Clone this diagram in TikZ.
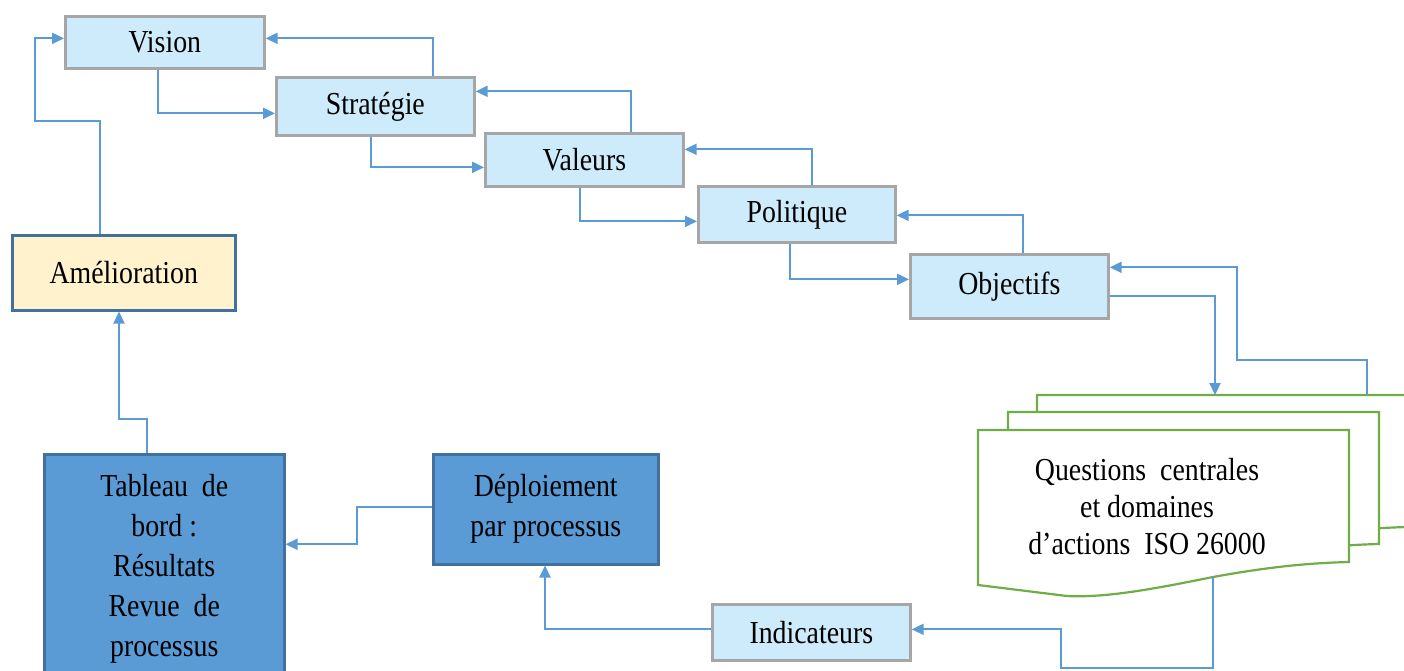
\documentclass[tikz,border=0pt]{standalone}
\usepackage{fontspec}
\setmainfont{Liberation Serif}[FakeStretch=0.87]
\usetikzlibrary{arrows.meta}
\definecolor{stagefill}{HTML}{CDEBFB}
\definecolor{stageline}{HTML}{A6A6A6}
\definecolor{improvefill}{HTML}{FFF2CC}
\definecolor{darkline}{HTML}{41719C}
\definecolor{deepfill}{HTML}{5B9BD5}
\definecolor{linkblue}{HTML}{5B9BD5}
\definecolor{docgreen}{HTML}{70AD47}
\begin{document}
\begin{tikzpicture}[x=1pt,y=-1pt,
  every node/.style={font=\fontsize{32}{40}\selectfont, inner sep=0pt, align=center, anchor=north west},
  stagebox/.style={draw=stageline, line width=2.7pt, fill=stagefill},
  improvebox/.style={draw=darkline, line width=2.5pt, fill=improvefill},
  deepbox/.style={draw=darkline, line width=2.5pt, fill=deepfill},
  link/.style={draw=linkblue, line width=2.2pt, -{Triangle[length=12pt,width=11pt]}},
  docsheet/.pic={
    \draw[docgreen, line width=2.2pt, fill=white]
      (0,0) -- (371,0) -- (371,132)
      .. controls (330,133) and (290,137) .. (235,147)
      .. controls (180,158) and (130,168) .. (89,166)
      -- (0,155) -- cycle;
  }]
\useasboundingbox (0,0) rectangle (1404,670);

% stacked document sheets
\pic at (1037,395) {docsheet};
\pic at (1008,412) {docsheet};
\pic at (978,430) {docsheet};
\node[anchor=center, font=\fontsize{32}{37}\selectfont] (iso) at (1147,507)
  {Questions\ \ centrales\\et domaines\\d’actions\ \ ISO 26000};
\coordinate (sheetin)  at (1215,395);
\coordinate (sheetout) at (1367,395);
\coordinate (sheetbot) at (1213,577);

% boxes
\node[stagebox, minimum width=199pt, minimum height=52pt] (vision)  at (64,15)  {Vision};
\node[stagebox, minimum width=198pt, minimum height=58pt] (strat)   at (275,76) {Stratégie};
\node[stagebox, minimum width=198pt, minimum height=53pt] (valeurs) at (484,132) {Valeurs};
\node[stagebox, minimum width=197pt, minimum height=56pt] (polit)   at (697,185) {Politique};
\node[stagebox, minimum width=198pt, minimum height=64pt] (objec)   at (909,253) {Objectifs};
\node[stagebox, minimum width=198pt, minimum height=56pt] (indic)   at (711,603) {Indicateurs};
\node[improvebox, minimum width=223pt, minimum height=75pt] (amel)  at (11,234) {Amélioration};
\node[deepbox, minimum width=240pt, minimum height=230pt] (tableau) at (43,453)
  {Tableau\ \ de\\bord :\\Résultats\\Revue\ \ de\\processus};
\node[deepbox, minimum width=225pt, minimum height=110pt] (deploi)  at (432,453)
  {Déploiement\\par processus};

% cascade between the strategic stages
\draw[link] ([xshift=158]strat.north west) |- ([yshift=4]vision.east);
\draw[link] ([xshift=94]vision.south west) |- ([yshift=-7]strat.west);
\draw[link] ([xshift=147]valeurs.north west) |- ([yshift=15]strat.east);
\draw[link] ([xshift=96]strat.south west) |- ([yshift=-7.5]valeurs.west);
\draw[link] ([xshift=115]polit.north west) |- ([yshift=10.5]valeurs.east);
\draw[link] ([xshift=96]valeurs.south west) |- ([yshift=-7]polit.west);
\draw[link] ([xshift=114]objec.north west) |- ([yshift=-1]polit.east);
\draw[link] ([xshift=93]polit.south west) |- ([yshift=7]objec.west);

% objectives and ISO 26000 sheets
\draw[link] ([yshift=-10]objec.east) -| (sheetin);
\draw[link] (sheetout) -- ++(0,-35) -- ++(-130,0) |- ([yshift=19]objec.east);

% deployment loop
\draw[link] (sheetbot) -- ++(0,91) -- ++(-152,0) |- ([yshift=3]indic.east);
\draw[link] ([yshift=3]indic.west) -| ([xshift=113]deploi.south west);
\draw[link] ([yshift=2]deploi.west) -- ++(-75,0) |- ([yshift=25]tableau.east);
\draw[link] ([xshift=104]tableau.north west) -- ++(0,-34) -| ([xshift=108]amel.south west);
\draw[link] ([xshift=89]amel.north west) -- ++(0,-113) -- ++(-65,0) |- ([yshift=4]vision.west);
\end{tikzpicture}
\end{document}
